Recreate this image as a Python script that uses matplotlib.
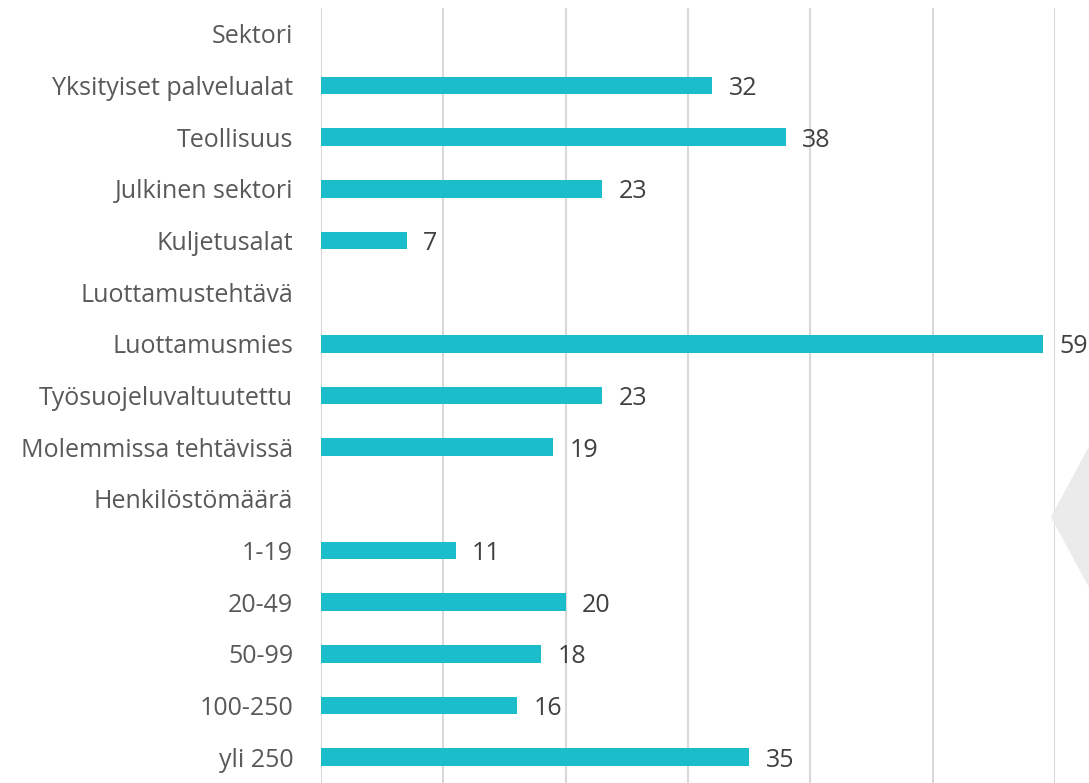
import numpy as np
import matplotlib.pyplot as plt
from matplotlib.patches import Polygon

# Luokat ylhäältä alas (otsikkoriveillä ei palkkia)
categories = ["Sektori", "Yksityiset palvelualat", "Teollisuus", "Julkinen sektori",
              "Kuljetusalat", "Luottamustehtävä", "Luottamusmies", "Työsuojeluvaltuutettu",
              "Molemmissa tehtävissä", "Henkilöstömäärä", "1-19", "20-49", "50-99",
              "100-250", "yli 250"]
values = [None, 32, 38, 23, 7, None, 59, 23, 19, None, 11, 20, 18, 16, 35]

plt.rcParams['font.family'] = ['Open Sans', 'DejaVu Sans']

fig = plt.figure(figsize=(10.89, 7.83), dpi=100)
ax = fig.add_axes([321 / 1089, 0, (1055 - 321) / 1089, 1 - 8 / 783])

y = np.arange(len(categories))
for i, v in enumerate(values):
    if v is None:
        continue
    ax.barh(i, v, height=0.34, color="#1BBDCB", zorder=3)
    ax.text(v + 1.35, i + 0.06, str(v), va="center", ha="left", fontsize=18, color="#404040")

ax.set_xlim(0, 60)
ax.set_ylim(len(categories) - 0.5, -0.5)
ax.set_xticks(np.arange(0, 61, 10))
ax.set_xticklabels([])
ax.set_yticks(y)
ax.set_yticklabels(categories, fontsize=18, color="#595959")
ax.tick_params(axis="both", length=0)
ax.tick_params(axis="y", pad=20)
ax.grid(axis="x", color="#D9D9D9", linewidth=1.5, zorder=0)
for s in ax.spines.values():
    s.set_visible(False)

# harmaa vesileima oikeassa reunassa
diamond = Polygon([[1051, 266], [1100, 357], [1149, 266], [1100, 175]], closed=True,
                  transform=None, facecolor="#EBEBEB", edgecolor="none", zorder=0)
fig.patches.append(diamond)

fig.savefig("out.png", dpi=100)
